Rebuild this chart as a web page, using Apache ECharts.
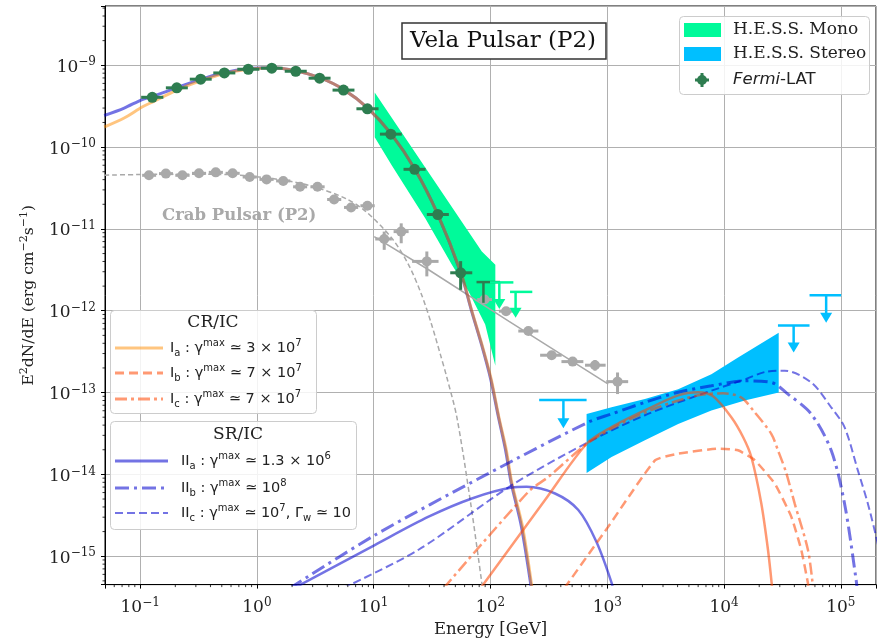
<!DOCTYPE html>
<html>
<head>
<meta charset="utf-8">
<script src="https://cdn.jsdelivr.net/npm/echarts@6/dist/echarts.min.js"></script>
<style>
html, body { margin: 0; padding: 0; background: #fff; }
#chart { width: 879px; height: 643px; }
</style>
</head>
<body>
<div id="chart"></div>
<script>
// axis limits
var X_MIN = 0.05, X_MAX = 2e5;
var Y_MIN = 4.5e-16, Y_MAX = 5.3e-9;

// Fermi-LAT points: [E, F, Elo, Ehi, Flo, Fhi]
var fermiPts = [
    [0.127, 4.06e-10, 0.102, 0.158, 3.95e-10, 4.17e-10],
    [0.206, 5.30e-10, 0.166, 0.256, 5.17e-10, 5.43e-10],
    [0.330, 6.76e-10, 0.266, 0.410, 6.60e-10, 6.92e-10],
    [0.526, 8.06e-10, 0.423, 0.653, 7.87e-10, 8.25e-10],
    [0.843, 8.94e-10, 0.679, 1.05, 8.73e-10, 9.15e-10],
    [1.34, 9.20e-10, 1.08, 1.66, 8.98e-10, 9.42e-10],
    [2.15, 8.45e-10, 1.73, 2.67, 8.25e-10, 8.65e-10],
    [3.44, 6.95e-10, 2.77, 4.27, 6.78e-10, 7.12e-10],
    [5.51, 4.97e-10, 4.44, 6.84, 4.85e-10, 5.09e-10],
    [8.83, 2.94e-10, 7.11, 11.0, 2.86e-10, 3.02e-10],
    [14.0, 1.44e-10, 11.3, 17.4, 1.39e-10, 1.49e-10],
    [22.4, 5.35e-11, 18.0, 27.8, 5.10e-11, 5.60e-11],
    [35.4, 1.50e-11, 28.5, 44.0, 1.38e-11, 1.63e-11],
    [55.5, 2.91e-12, 45.2, 69.8, 1.80e-12, 4.04e-12]
];
// upper limits: [E, F, Elo, Ehi, Ftip]
var fermiUL = [[87, 2.24e-12, 75.9, 121, 1.25e-12]];
var monoUL = [
    [119, 2.22e-12, 99, 157, 1.05e-12],
    [164, 1.70e-12, 147, 228, 8.2e-13]
];
var stereoUL = [
    [421, 8.11e-14, 261, 665, 3.67e-14],
    [39430, 6.61e-13, 28940, 53950, 3.08e-13],
    [74850, 1.55e-12, 53950, 100700, 7.13e-13]
];

// Crab pulsar points: [E, F, Elo, Ehi, Flo, Fhi]
var crabPts = [
    [0.119, 4.52e-11, 0.104, 0.137, 4.35e-11, 4.70e-11],
    [0.166, 4.74e-11, 0.145, 0.191, 4.56e-11, 4.93e-11],
    [0.230, 4.52e-11, 0.200, 0.265, 4.35e-11, 4.70e-11],
    [0.319, 4.78e-11, 0.278, 0.367, 4.60e-11, 4.97e-11],
    [0.444, 4.91e-11, 0.387, 0.511, 4.72e-11, 5.10e-11],
    [0.619, 4.78e-11, 0.539, 0.712, 4.60e-11, 4.97e-11],
    [0.867, 4.31e-11, 0.755, 0.997, 4.14e-11, 4.48e-11],
    [1.21, 4.03e-11, 1.05, 1.39, 3.87e-11, 4.19e-11],
    [1.68, 3.86e-11, 1.46, 1.93, 3.71e-11, 4.01e-11],
    [2.34, 3.27e-11, 2.04, 2.69, 3.14e-11, 3.40e-11],
    [3.30, 3.27e-11, 2.87, 3.80, 3.14e-11, 3.40e-11],
    [4.58, 2.29e-11, 3.99, 5.27, 2.18e-11, 2.40e-11],
    [6.40, 1.83e-11, 5.57, 7.36, 1.74e-11, 1.92e-11],
    [8.83, 1.92e-11, 7.69, 10.2, 1.82e-11, 2.02e-11],
    [12.3, 7.53e-12, 10.3, 14.3, 5.55e-12, 9.27e-12],
    [17.2, 9.27e-12, 14.8, 19.9, 6.68e-12, 1.17e-11],
    [28.5, 4.01e-12, 21.3, 35.9, 2.63e-12, 5.30e-12],
    [88.9, 1.37e-12, 76.9, 103, 1.28e-12, 1.47e-12],
    [136, 9.88e-13, 118, 157, 9.2e-13, 1.06e-12],
    [211, 5.65e-13, 173, 257, 5.2e-13, 6.1e-13],
    [334, 2.86e-13, 266, 407, 2.6e-13, 3.1e-13],
    [505, 2.39e-13, 405, 624, 2.2e-13, 2.6e-13],
    [785, 2.16e-13, 645, 968, 1.85e-13, 2.5e-13],
    [1224, 1.36e-13, 980, 1510, 9.59e-14, 1.76e-13]
];
var crabModel = [
    [0.0492, 4.54e-11], [0.216, 4.67e-11], [0.576, 4.61e-11], [1.04, 4.30e-11],
    [1.88, 3.84e-11], [3.26, 3.20e-11], [5.77, 2.35e-11], [8.54, 1.64e-11],
    [14.3, 7.69e-12], [19.9, 3.64e-12], [25.7, 1.57e-12], [31.3, 6.80e-13],
    [37.2, 2.93e-13], [42.3, 1.53e-13], [51.5, 5.00e-14], [67.0, 4.86e-15],
    [84.3, 4.71e-16], [87.1, 3.24e-16]
];
var crabPL = [[10.1, 8.06e-12], [29.5, 3.17e-12], [143, 7.47e-13], [1020, 1.27e-13]];

// H.E.S.S. butterflies
var monoUpper = [[10.2, 4.66e-10], [84.3, 5.30e-12], [110, 3.64e-12]];
var monoLower = [[10.2, 1.32e-10], [14.3, 5.97e-11], [27.7, 1.34e-11], [46.7, 3.64e-12],
    [64.8, 1.73e-12], [90.1, 6.8e-13], [110, 2.12e-13]];
var stereoUpper = [[665, 5.48e-14], [1088, 6.61e-14], [2100, 8.33e-14], [4045, 1.10e-13],
    [7785, 1.68e-13], [13180, 2.68e-13], [29370, 5.39e-13]];
var stereoLower = [[665, 1.04e-14], [1088, 1.63e-14], [2100, 2.61e-14], [4045, 4.14e-14],
    [7785, 6.03e-14], [15030, 7.98e-14], [29370, 1.00e-13]];

// pulsed curvature / synchrotron components
var vela2a = [
    [0.0492, 2.43e-10], [0.073, 3.00e-10], [0.104, 3.81e-10], [0.127, 4.14e-10],
    [0.207, 5.33e-10], [0.332, 6.76e-10], [0.522, 8.11e-10], [0.838, 9.07e-10],
    [1.34, 9.33e-10], [2.15, 8.57e-10], [3.45, 7.05e-10], [5.54, 5.04e-10],
    [8.89, 3.00e-10], [14.0, 1.47e-10], [22.4, 5.45e-11], [35.2, 1.53e-11],
    [55.4, 2.97e-12], [68.8, 9.97e-13], [83.8, 3.85e-13], [100, 1.49e-13],
    [117, 5.00e-14], [134, 2.04e-14], [151, 7.66e-15], [184, 2.30e-15], [229, 3.24e-16]
];
var vela1a = [
    [0.0492, 1.76e-10], [0.073, 2.27e-10], [0.104, 3.09e-10], [0.127, 3.55e-10],
    [0.207, 4.97e-10], [0.332, 6.48e-10], [0.522, 7.88e-10], [0.838, 8.94e-10],
    [1.34, 9.33e-10], [2.15, 8.57e-10], [3.45, 7.05e-10], [5.54, 5.04e-10],
    [8.89, 3.00e-10], [14.0, 1.47e-10], [22.4, 5.45e-11], [35.2, 1.53e-11],
    [55.6, 2.97e-12], [69.2, 9.97e-13], [84.5, 3.85e-13], [101, 1.49e-13],
    [118, 5.00e-14], [136, 2.04e-14], [153, 7.66e-15], [188, 2.30e-15], [232, 3.24e-16]
];

// inverse Compton components
var ic1a = [
    [82.1, 4.06e-16], [293, 4.86e-15], [666, 2.37e-14], [1088, 3.78e-14], [2100, 6.07e-14],
    [4045, 9.25e-14], [5995, 1.01e-13], [8054, 8.99e-14], [11540, 4.99e-14], [14540, 2.86e-14],
    [17120, 1.63e-14], [20840, 4.42e-15], [23770, 1.20e-15], [25720, 4.30e-16]
];
var ic1b = [
    [429, 4.06e-16], [1020, 2.30e-15], [2573, 1.49e-14], [4045, 1.79e-14], [8887, 2.06e-14],
    [13170, 1.97e-14], [18300, 1.49e-14], [27130, 7.73e-15], [37610, 3.05e-15],
    [45800, 1.20e-15], [52230, 4.71e-16], [53200, 3.73e-16]
];
var ic1c = [
    [39.7, 4.06e-16], [211, 6.13e-15], [313, 9.32e-15], [666, 2.35e-14], [1242, 4.00e-14],
    [2729, 6.61e-14], [5995, 9.25e-14], [9806, 9.78e-14], [13970, 8.74e-14], [18300, 5.74e-14],
    [25370, 3.13e-14], [28940, 1.97e-14], [33880, 1.07e-14], [40210, 4.42e-15],
    [52230, 1.20e-15], [57650, 4.30e-16]
];
var ic2a = [
    [2.07, 4.06e-16], [10.3, 1.38e-15], [29.5, 3.04e-15], [69.2, 5.08e-15], [152, 6.91e-15],
    [204, 7.05e-15], [357, 5.84e-15], [565, 3.67e-15], [805, 1.51e-15], [1089, 4.71e-16],
    [1148, 3.24e-16]
];
var ic2b = [
    [1.91, 4.06e-16], [10.3, 1.82e-15], [90.1, 9.78e-15], [688, 4.35e-14], [1088, 5.48e-14],
    [2100, 7.60e-14], [4045, 1.01e-13], [7790, 1.21e-13], [15030, 1.39e-13], [25370, 1.33e-13],
    [35240, 9.59e-14], [55750, 5.48e-14], [82630, 1.97e-14], [107500, 4.42e-15],
    [135100, 5.18e-16], [138400, 3.73e-16]
];
var ic2c = [
    [5.43, 4.06e-16], [24.2, 1.20e-15], [152, 7.39e-15], [688, 2.48e-14], [2100, 5.28e-14],
    [5995, 9.25e-14], [15030, 1.45e-13], [22280, 1.78e-13], [33030, 1.85e-13], [55750, 1.33e-13],
    [82630, 6.61e-14], [107500, 3.78e-14], [139800, 1.12e-14], [170200, 4.42e-15],
    [200400, 1.74e-15], [228600, 7.52e-16]
];

var SERIF = 'DejaVu Serif', SANS = 'DejaVu Sans';
var C_FERMI = '#2e7d50', C_CRAB = '#a9a9a9';
var C_MONO = '#00fa9a', C_STEREO = '#00bfff';
var C_1A = 'rgba(255,140,0,0.5)', C_1 = 'rgba(255,69,0,0.55)';
var C_2 = 'rgba(0,0,205,0.55)';

// minor tick positions (2..9 x 10^n)
var xMinor = [], yMinor = [];
for (var e = -2; e <= 5; e++) {
    for (var m = 2; m <= 9; m++) {
        var v = m * Math.pow(10, e);
        if (v > X_MIN && v < X_MAX) xMinor.push([v, Y_MIN]);
    }
}
for (var e2 = -16; e2 <= -9; e2++) {
    for (var m2 = 2; m2 <= 9; m2++) {
        var w = m2 * Math.pow(10, e2);
        if (w > Y_MIN && w < Y_MAX) yMinor.push([X_MIN, w]);
    }
}

function powLabel(v) {
    var l = Math.log10(v), e = Math.round(l);
    if (Math.abs(l - e) > 1e-6) return '';
    return '{b|10}{s|' + (e < 0 ? '\u2212' + (-e) : e) + '}';
}
var tickRich = {
    b: { fontFamily: SERIF, fontSize: 17, color: '#222', lineHeight: 22 },
    s: { fontFamily: SERIF, fontSize: 12, color: '#222', verticalAlign: 'top' }
};

function errItem(color, r) {
    return function (params, api) {
        var c = api.coord([api.value(0), api.value(1)]);
        var l = api.coord([api.value(2), api.value(1)]);
        var h = api.coord([api.value(3), api.value(1)]);
        var lo = api.coord([api.value(0), api.value(4)]);
        var hi = api.coord([api.value(0), api.value(5)]);
        return { type: 'group', children: [
            { type: 'line', shape: { x1: l[0], y1: c[1], x2: h[0], y2: c[1] }, style: { stroke: color, lineWidth: 3 } },
            { type: 'line', shape: { x1: c[0], y1: lo[1], x2: c[0], y2: hi[1] }, style: { stroke: color, lineWidth: 3 } },
            { type: 'circle', shape: { cx: c[0], cy: c[1], r: r }, style: { fill: color } }
        ] };
    };
}
function ulItem(color, head) {
    return function (params, api) {
        var t = api.coord([api.value(0), api.value(1)]);
        var l = api.coord([api.value(2), api.value(1)]);
        var r = api.coord([api.value(3), api.value(1)]);
        var tip = api.coord([api.value(0), api.value(4)]);
        var kids = [
            { type: 'line', shape: { x1: l[0], y1: t[1], x2: r[0], y2: t[1] }, style: { stroke: color, lineWidth: 2.5 } },
            { type: 'line', shape: { x1: t[0], y1: t[1], x2: t[0], y2: tip[1] - (head ? 8 : 0) }, style: { stroke: color, lineWidth: 2.5 } }
        ];
        if (head) {
            kids.push({ type: 'polygon', shape: { points: [[t[0] - 6, tip[1] - 10], [t[0] + 6, tip[1] - 10], [t[0], tip[1]]] }, style: { fill: color } });
        }
        return { type: 'group', children: kids };
    };
}
function bandItem(upper, lower, color) {
    return function (params, api) {
        if (params.dataIndex !== 0) return;
        var pts = upper.map(function (p) { return api.coord(p); });
        var low = lower.map(function (p) { return api.coord(p); }).reverse();
        return { type: 'polygon', shape: { points: pts.concat(low) }, style: { fill: color } };
    };
}
function tickItem(axis) {
    return function (params, api) {
        var p = api.coord([api.value(0), api.value(1)]);
        var shape = axis === 'x' ? { x1: p[0], y1: p[1], x2: p[0], y2: p[1] + 2.5 }
                                 : { x1: p[0] - 2.5, y1: p[1], x2: p[0], y2: p[1] };
        return { type: 'line', shape: shape, style: { stroke: '#000', lineWidth: 0.8 } };
    };
}
function curve(name, data, color, width, dash, z, smooth) {
    return {
        type: 'line', name: name, data: data, showSymbol: false, z: z,
        smooth: smooth == null ? 0.3 : smooth, silent: true,
        lineStyle: { color: color, width: width, type: dash || 'solid', cap: 'butt' }
    };
}
function errRows(rows) { return rows.map(function (r) { return r.slice(); }); }

var series = [
    { type: 'custom', name: 'H.E.S.S. Mono', z: 1, silent: true, data: [monoUpper[0]], renderItem: bandItem(monoUpper, monoLower, C_MONO) },
    { type: 'custom', name: 'H.E.S.S. Stereo', z: 1, silent: true, data: [stereoUpper[0]], renderItem: bandItem(stereoUpper, stereoLower, C_STEREO) },
    curve('Crab model', crabModel, C_CRAB, 1.5, [5, 3], 2),
    curve('Crab PL', crabPL, C_CRAB, 1.5, 'solid', 2, 0),
    curve('IIa', vela2a, C_2, 3, 'solid', 3),
    curve('Ia', vela1a, C_1A, 3, 'solid', 3),
    curve('IIa IC', ic2a, C_2, 2.5, 'solid', 3),
    curve('IIb IC', ic2b, C_2, 3, [14, 5, 3, 5], 3),
    curve('IIc IC', ic2c, C_2, 2, [8, 4], 3),
    curve('Ia IC', ic1a, C_1, 2.5, 'solid', 3),
    curve('Ib IC', ic1b, C_1, 2.5, [9, 5], 3, 0.15),
    curve('Ic IC', ic1c, C_1, 2.5, [12, 4, 3, 4], 3),
    { type: 'custom', name: 'Crab', z: 5, silent: true, data: errRows(crabPts), encode: { x: 0, y: 1 }, renderItem: errItem(C_CRAB, 5) },
    { type: 'custom', name: 'Fermi UL', z: 5, silent: true, data: errRows(fermiUL), encode: { x: 0, y: 1 }, renderItem: ulItem(C_FERMI, false) },
    { type: 'custom', name: 'Fermi-LAT', z: 6, silent: true, data: errRows(fermiPts), encode: { x: 0, y: 1 }, renderItem: errItem(C_FERMI, 5.5) },
    { type: 'custom', name: 'Mono UL', z: 6, silent: true, data: errRows(monoUL), encode: { x: 0, y: 1 }, renderItem: ulItem(C_MONO, true) },
    { type: 'custom', name: 'Stereo UL', z: 6, silent: true, data: errRows(stereoUL), encode: { x: 0, y: 1 }, renderItem: ulItem(C_STEREO, true) },
    { type: 'custom', name: 'xminor', z: 7, silent: true, clip: false, data: xMinor, renderItem: tickItem('x') },
    { type: 'custom', name: 'yminor', z: 7, silent: true, clip: false, data: yMinor, renderItem: tickItem('y') }
];

// legends and annotations
function legLine(x1, x2, y, color, width, dash) {
    return { type: 'line', z: 101, shape: { x1: x1, y1: y, x2: x2, y2: y },
        style: { stroke: color, lineWidth: width, lineDash: dash || null } };
}
var mathRich = {
    n: { fontFamily: SANS, fontSize: 14.5, fill: '#222', lineHeight: 20 },
    sb: { fontFamily: SANS, fontSize: 10, fill: '#222', verticalAlign: 'bottom' },
    sp: { fontFamily: SANS, fontSize: 10, fill: '#222', verticalAlign: 'top' }
};
function legText(x, y, txt) {
    return { type: 'text', z: 101, x: x, y: y,
        style: { text: txt, rich: mathRich, verticalAlign: 'middle', align: 'left' } };
}
var graphics = [
    // title
    { type: 'rect', z: 100, shape: { x: 402, y: 23, width: 204, height: 36 },
      style: { fill: '#fff', stroke: '#333', lineWidth: 1.5 } },
    { type: 'text', z: 101, x: 503, y: 41,
      style: { text: 'Vela Pulsar (P2)', font: '23px "DejaVu Serif"', fill: '#111', align: 'center', verticalAlign: 'middle' } },
    // crab label
    { type: 'text', z: 100, x: 162, y: 216,
      style: { text: 'Crab Pulsar (P2)', font: 'bold 16.5px "DejaVu Serif"', fill: C_CRAB, align: 'left', verticalAlign: 'middle' } },
    // top right legend
    { type: 'rect', z: 100, shape: { x: 679.5, y: 16.5, width: 190, height: 78, r: 4 },
      style: { fill: 'rgba(255,255,255,0.85)', stroke: '#cccccc', lineWidth: 1 } },
    { type: 'rect', z: 101, shape: { x: 684, y: 23, width: 37, height: 14 }, style: { fill: C_MONO } },
    { type: 'text', z: 101, x: 733, y: 30,
      style: { text: 'H.E.S.S. Mono', font: '17px "DejaVu Serif"', fill: '#222', verticalAlign: 'middle' } },
    { type: 'rect', z: 101, shape: { x: 684, y: 47, width: 37, height: 14 }, style: { fill: C_STEREO } },
    { type: 'text', z: 101, x: 733, y: 54,
      style: { text: 'H.E.S.S. Stereo', font: '17px "DejaVu Serif"', fill: '#222', verticalAlign: 'middle' } },
    legLine(695, 709, 80, C_FERMI, 3),
    { type: 'line', z: 101, shape: { x1: 702, y1: 73, x2: 702, y2: 87 }, style: { stroke: C_FERMI, lineWidth: 3 } },
    { type: 'circle', z: 101, shape: { cx: 702, cy: 80, r: 5 }, style: { fill: C_FERMI } },
    { type: 'text', z: 101, x: 733, y: 80,
      style: { text: '{i|Fermi}{n|-LAT}', verticalAlign: 'middle',
        rich: { i: { fontFamily: SANS, fontStyle: 'italic', fontSize: 16.5, fill: '#222' }, n: { fontFamily: SANS, fontSize: 16.5, fill: '#222' } } } },
    // CR/IC legend
    { type: 'rect', z: 100, shape: { x: 110.5, y: 310.5, width: 206, height: 103, r: 4 },
      style: { fill: 'rgba(255,255,255,0.85)', stroke: '#cccccc', lineWidth: 1 } },
    { type: 'text', z: 101, x: 213, y: 323,
      style: { text: 'CR/IC', font: '17px "DejaVu Serif"', fill: '#222', align: 'center', verticalAlign: 'middle' } },
    legLine(115, 163, 348, C_1A, 3),
    legLine(115, 163, 373, C_1, 3, [9, 5]),
    legLine(115, 163, 399, C_1, 3, [12, 4, 3, 4]),
    legText(170, 348, '{n|I}{sb|a}{n| : \u03b3}{sp|max}{n| \u2243 3 \u00d7 10}{sp|7}'),
    legText(170, 373, '{n|I}{sb|b}{n| : \u03b3}{sp|max}{n| \u2243 7 \u00d7 10}{sp|7}'),
    legText(170, 399, '{n|I}{sb|c}{n| : \u03b3}{sp|max}{n| \u2243 7 \u00d7 10}{sp|7}'),
    // SR/IC legend
    { type: 'rect', z: 100, shape: { x: 110.5, y: 421.5, width: 246, height: 108, r: 4 },
      style: { fill: 'rgba(255,255,255,0.85)', stroke: '#cccccc', lineWidth: 1 } },
    { type: 'text', z: 101, x: 238, y: 435,
      style: { text: 'SR/IC', font: '17px "DejaVu Serif"', fill: '#222', align: 'center', verticalAlign: 'middle' } },
    legLine(115, 168, 461, C_2, 3),
    legLine(115, 168, 488, C_2, 3, [14, 5, 3, 5]),
    legLine(115, 168, 513, C_2, 2, [8, 4]),
    legText(181, 461, '{n|II}{sb|a}{n| : \u03b3}{sp|max}{n| \u2243 1.3 \u00d7 10}{sp|6}'),
    legText(181, 488, '{n|II}{sb|b}{n| : \u03b3}{sp|max}{n| \u2243 10}{sp|8}'),
    legText(181, 513, '{n|II}{sb|c}{n| : \u03b3}{sp|max}{n| \u2243 10}{sp|7}{n|, \u0393}{sb|w}{n| \u2243 10}')
];

var chart = echarts.init(document.getElementById('chart'), null, { renderer: 'canvas' });
chart.setOption({
    animation: false,
    backgroundColor: '#fff',
    grid: { left: 105, right: 0, top: 6, bottom: 54, show: true, borderColor: '#000', borderWidth: 1 },
    xAxis: {
        type: 'log', logBase: 10, min: X_MIN, max: X_MAX,
        name: 'Energy [GeV]', nameLocation: 'middle', nameGap: 36,
        nameTextStyle: { fontFamily: SERIF, fontSize: 16.5, color: '#222' },
        axisLine: { show: true, lineStyle: { color: '#000', width: 1 } },
        axisTick: { show: true, length: 4, lineStyle: { color: '#000' } },
        axisLabel: { formatter: powLabel, margin: 12, rich: tickRich },
        splitLine: { show: true, lineStyle: { color: '#b0b0b0', width: 1 } }
    },
    yAxis: {
        type: 'log', logBase: 10, min: Y_MIN, max: Y_MAX,
        name: '{n|E}{s|2}{n|dN/dE (erg cm}{s|\u22122}{n|s}{s|\u22121}{n|)}',
        nameLocation: 'middle', nameGap: 66,
        nameTextStyle: { rich: {
            n: { fontFamily: SERIF, fontSize: 15.5, color: '#222', lineHeight: 20 },
            s: { fontFamily: SERIF, fontSize: 11, color: '#222', verticalAlign: 'top' }
        } },
        axisLine: { show: true, lineStyle: { color: '#000', width: 1 } },
        axisTick: { show: true, length: 4, lineStyle: { color: '#000' } },
        axisLabel: { formatter: powLabel, margin: 9, padding: [4, 0, 0, 0], rich: tickRich },
        splitLine: { show: true, lineStyle: { color: '#b0b0b0', width: 1 } }
    },
    series: series,
    graphic: graphics
});
</script>
</body>
</html>
